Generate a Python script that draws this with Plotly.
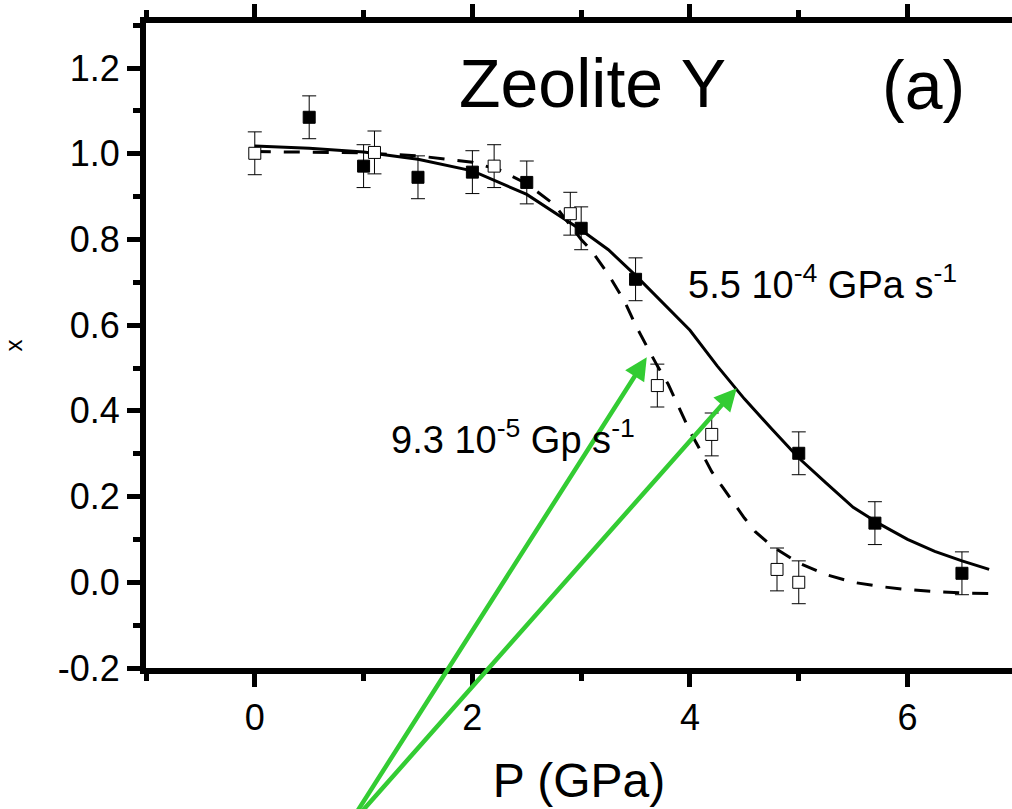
import plotly.graph_objects as go

# ---- data ----
filled_p = [0.5, 1.0, 1.5, 2.0, 2.5, 3.0, 3.5, 5.0, 5.7, 6.5]
filled_x = [1.085, 0.971, 0.945, 0.957, 0.933, 0.826, 0.707, 0.301, 0.138, 0.021]
filled_err = [0.05] * len(filled_p)

open_p = [0.0, 1.1, 2.2, 2.9, 3.7, 4.2, 4.8, 5.0]
open_x = [1.001, 1.003, 0.971, 0.860, 0.459, 0.345, 0.030, 0.000]
open_err = [0.05] * len(open_p)

fit_fast_p = [0.0, 0.5, 1.0, 1.5, 2.0, 2.5, 3.0, 3.25, 3.5, 3.75, 4.0, 4.25, 4.5,
              4.75, 5.0, 5.25, 5.5, 5.75, 6.0, 6.25, 6.5, 6.75]
fit_fast_x = [1.018, 1.013, 1.004, 0.987, 0.960, 0.905, 0.822, 0.776, 0.716, 0.652,
              0.588, 0.505, 0.428, 0.358, 0.290, 0.232, 0.175, 0.135, 0.100, 0.072,
              0.050, 0.030]

fit_slow_p = [0.0, 0.5, 1.0, 1.5, 2.0, 2.25, 2.5, 2.75, 3.0, 3.1, 3.25, 3.4, 3.5,
              3.6, 3.7, 3.8, 3.9, 4.0, 4.1, 4.2, 4.3, 4.4, 4.5, 4.6, 4.75, 5.0,
              5.25, 5.5, 5.75, 6.0, 6.25, 6.5, 6.75]
fit_slow_x = [1.005, 1.004, 1.002, 0.995, 0.980, 0.962, 0.930, 0.882, 0.800, 0.772,
              0.718, 0.655, 0.600, 0.552, 0.505, 0.462, 0.408, 0.352, 0.306, 0.258,
              0.222, 0.185, 0.150, 0.118, 0.085, 0.045, 0.018, 0.000, -0.010,
              -0.017, -0.022, -0.025, -0.026]

# tick labels
x_tickvals = [0, 2, 4, 6]
x_ticktext = ["0", "2", "4", "6"]
y_tickvals = [-0.2, 0.0, 0.2, 0.4, 0.6, 0.8, 1.0, 1.2]
y_ticktext = ["-0.2", "0.0", "0.2", "0.4", "0.6", "0.8", "1.0", "1.2"]

# arrows: (tail P, tail x) -> (head P, head x)
arrow_tail = [(0.83, -0.579), (0.83, -0.579)]
arrow_head = [(3.603, 0.525), (4.430, 0.453)]

# text labels
title_text = "Zeolite Y"
panel_text = "(a)"
rate_fast_text = "5.5 10<sup>-4</sup> GPa s<sup>-1</sup>"
rate_slow_text = "9.3 10<sup>-5</sup> Gp s<sup>-1</sup>"

FONT = "Liberation Sans, Arial, sans-serif"

fig = go.Figure()

fig.add_trace(go.Scatter(
    x=fit_slow_p, y=fit_slow_x, mode="lines",
    line=dict(color="black", width=3, dash="16px,13px"),
    showlegend=False, hoverinfo="skip"))
fig.add_trace(go.Scatter(
    x=fit_fast_p, y=fit_fast_x, mode="lines",
    line=dict(color="black", width=3),
    showlegend=False, hoverinfo="skip"))

fig.add_trace(go.Scatter(
    x=open_p, y=open_x, mode="markers",
    marker=dict(symbol="square", size=12, color="white",
                line=dict(color="black", width=1)),
    error_y=dict(type="data", array=open_err, thickness=1, width=7, color="black"),
    showlegend=False))
fig.add_trace(go.Scatter(
    x=filled_p, y=filled_x, mode="markers",
    marker=dict(symbol="square", size=12, color="black",
                line=dict(color="black", width=1)),
    error_y=dict(type="data", array=filled_err, thickness=1, width=7, color="black"),
    showlegend=False))

annotations = []
for (tx, ty), (hx, hy) in zip(arrow_tail, arrow_head):
    annotations.append(dict(
        x=hx, y=hy, xref="x", yref="y",
        ax=tx, ay=ty, axref="x", ayref="y",
        text="", showarrow=True, arrowhead=2, arrowsize=1.0,
        arrowwidth=4.5, arrowcolor="#33cc33", standoff=0))

annotations += [
    dict(x=3.10, y=1.165, xref="x", yref="y", text=title_text, showarrow=False,
         font=dict(family=FONT, size=68, color="black"), xanchor="center", yanchor="middle"),
    dict(x=6.15, y=1.16, xref="x", yref="y", text=panel_text, showarrow=False,
         font=dict(family=FONT, size=68, color="black"), xanchor="center", yanchor="middle"),
    dict(x=3.96, y=0.70, xref="x", yref="y", text=rate_fast_text, showarrow=False,
         font=dict(family=FONT, size=38, color="black"), xanchor="left", yanchor="middle"),
    dict(x=1.23, y=0.338, xref="x", yref="y", text=rate_slow_text, showarrow=False,
         font=dict(family=FONT, size=38, color="black"), xanchor="left", yanchor="middle"),
]

fig.update_layout(
    width=1012, height=809,
    margin=dict(l=146, r=0, t=23, b=141, pad=0, autoexpand=False),
    paper_bgcolor="white", plot_bgcolor="white",
    font=dict(family=FONT, color="black"),
    annotations=annotations,
    showlegend=False,
)

fig.update_xaxes(
    range=[-1, 6.96], showgrid=False, zeroline=False, automargin=False,
    showline=True, linewidth=6, linecolor="black", mirror="ticks",
    ticks="outside", ticklen=13, tickwidth=5, tickcolor="black",
    tickmode="array", tickvals=x_tickvals, ticktext=x_ticktext,
    minor=dict(ticks="outside", ticklen=7, tickwidth=5, tickcolor="black",
               tickmode="linear", dtick=1, tick0=-1, showgrid=False),
    tickfont=dict(family=FONT, size=36, color="black"),
    title=dict(text="P (GPa)", font=dict(family=FONT, size=48, color="black"), standoff=28),
)
fig.update_yaxes(
    range=[-0.2, 1.305], showgrid=False, zeroline=False, automargin=False,
    showline=True, linewidth=6, linecolor="black", mirror=False,
    ticks="outside", ticklen=13, tickwidth=5, tickcolor="black",
    tickmode="array", tickvals=y_tickvals, ticktext=y_ticktext,
    minor=dict(ticks="outside", ticklen=7, tickwidth=5, tickcolor="black",
               tickmode="linear", dtick=0.1, tick0=-0.2, showgrid=False),
    tickfont=dict(family=FONT, size=36, color="black"),
    title=dict(text="x", font=dict(family=FONT, size=24, color="black"), standoff=50),
)

fig.write_html("out.html")
